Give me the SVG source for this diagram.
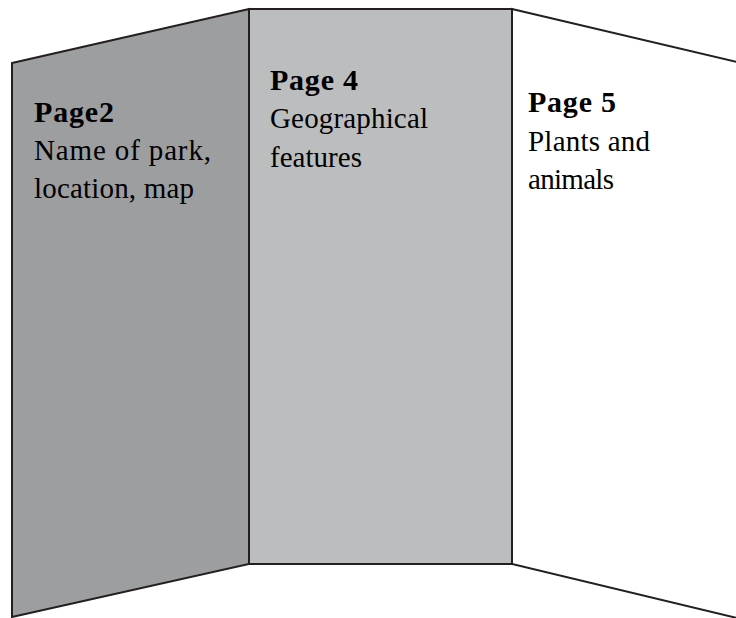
<svg xmlns="http://www.w3.org/2000/svg" width="736" height="618" viewBox="0 0 736 618">
<style>
.panel{stroke:#231f20;stroke-width:2;stroke-linejoin:miter}
text{font-family:'Liberation Serif','Times New Roman',Times,serif;font-size:29px;fill:#000}
.b{font-weight:bold;font-size:30px}
</style>
<rect width="736" height="618" fill="#fff"/>
<g id="panel-page5">
<polygon class="panel" points="512,9 737,62 737,618 512,564" fill="#fff"/>
<text class="b" x="528" y="112" textLength="88">Page 5</text>
<text x="528" y="151" textLength="122">Plants and</text>
<text x="528" y="189" textLength="86">animals</text>
</g>
<g id="panel-page4">
<polygon class="panel" points="249,9 512,9 512,564 249,564" fill="#bcbdbf"/>
<text class="b" x="270" y="90" textLength="88">Page 4</text>
<text x="270" y="128" textLength="158">Geographical</text>
<text x="270" y="167" textLength="92">features</text>
</g>
<g id="panel-page2">
<polygon class="panel" points="12,63 249,9 249,564 12,617" fill="#9d9ea0"/>
<text class="b" x="34" y="122" textLength="80">Page2</text>
<text x="34" y="160" textLength="177">Name of park,</text>
<text x="34" y="198" textLength="160">location, map</text>
</g>
<g id="connectors"></g>
</svg>
